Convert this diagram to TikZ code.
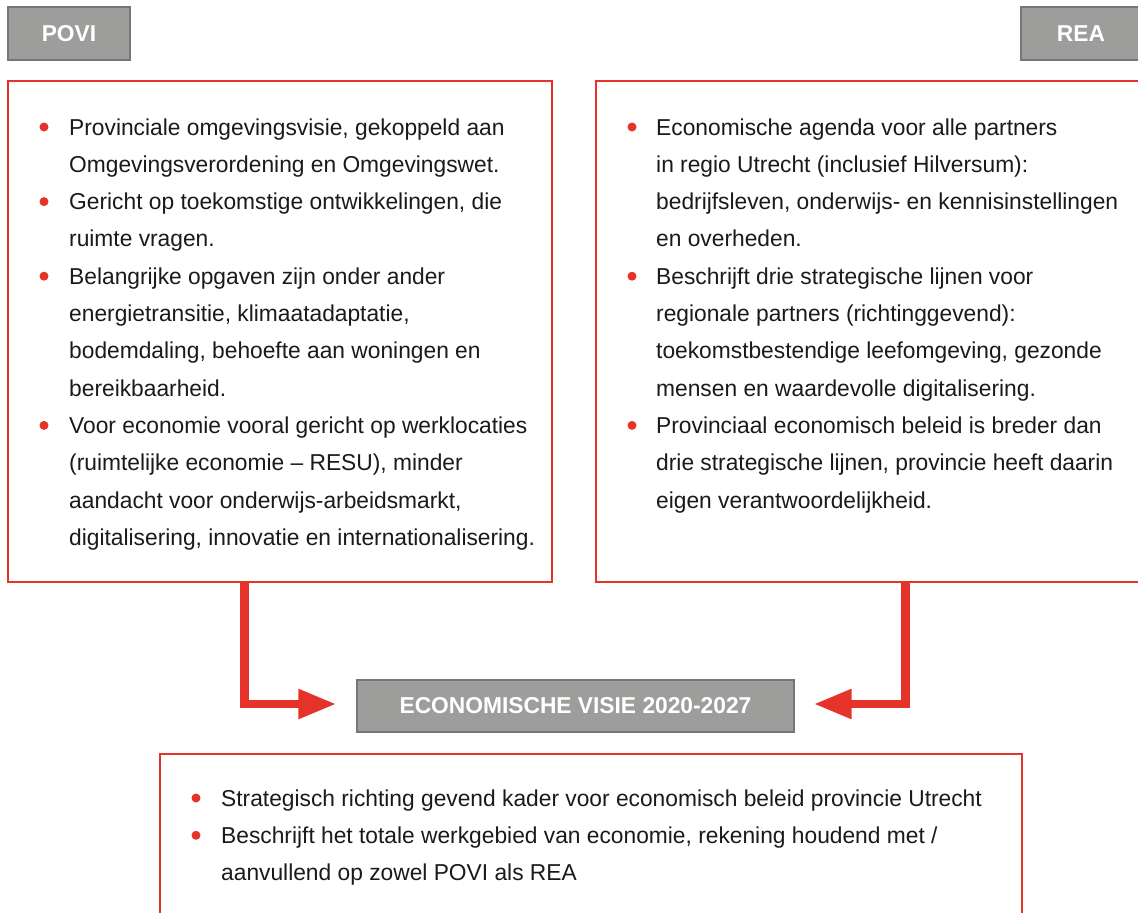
\documentclass[tikz,border=0pt]{standalone}
\usepackage{fontspec}
\setmainfont[FakeStretch=0.99]{Liberation Sans}
\usetikzlibrary{arrows.meta}
\definecolor{vred}{RGB}{230,51,41}
\definecolor{vgray}{RGB}{157,157,156}
\definecolor{vgrayline}{RGB}{118,118,118}
\definecolor{vtext}{RGB}{26,26,26}
\tikzset{
  redbox/.style={draw=vred, line width=1.3pt, inner sep=0pt},
  hdr/.style={fill=vgray, draw=vgrayline, line width=1.4pt, text=white, inner sep=0pt,
    font=\fontsize{23}{27}\selectfont\bfseries},
  txt/.style={anchor=base west, inner sep=0pt, text=vtext, font=\fontsize{23}{27}\selectfont},
  bul/.style={circle, fill=vred, inner sep=0pt, minimum size=9pt},
  conn/.style={draw=vred, line width=8.5pt, -{Triangle[length=38pt, width=28pt]}}
}
\begin{document}
\begin{tikzpicture}[x=1pt,y=-1pt]
\useasboundingbox (0,0) rectangle (1138,913);
% header boxes
\node[hdr, minimum width=122pt, minimum height=53pt] (povi) at (69,33.5) {POVI};
\node[hdr, minimum width=120pt, minimum height=53pt] (rea) at (1081,33.5) {REA};
% red boxes
\node[redbox, minimum width=544pt, minimum height=501pt] (lbox) at (280,331.5) {};
\node[redbox, minimum width=549pt, minimum height=501pt] (rbox) at (870.5,331.5) {};
\node[redbox, minimum width=862pt, minimum height=176pt] (bbox) at (591,842) {};
% center box
\node[hdr, minimum width=437pt, minimum height=52pt] (cbox) at (575.5,706) {ECONOMISCHE VISIE 2020-2027};
% left text
\node[bul] (lb1) at (44,127) {};
\node[bul] (lb2) at (44,201.6) {};
\node[bul] (lb3) at (44,276.2) {};
\node[bul] (lb4) at (44,425.4) {};
\node[txt] (l1) at (69,135) {Provinciale omgevingsvisie, gekoppeld aan};
\node[txt] (l2) at (69,172.3) {Omgevingsverordening en Omgevingswet.};
\node[txt] (l3) at (69,209.6) {Gericht op toekomstige ontwikkelingen, die};
\node[txt] (l4) at (69,246.9) {ruimte vragen.};
\node[txt] (l5) at (69,284.2) {Belangrijke opgaven zijn onder ander};
\node[txt] (l6) at (69,321.5) {energietransitie, klimaatadaptatie,};
\node[txt] (l7) at (69,358.8) {bodemdaling, behoefte aan woningen en};
\node[txt] (l8) at (69,396.1) {bereikbaarheid.};
\node[txt] (l9) at (69,433.4) {Voor economie vooral gericht op werklocaties};
\node[txt] (l10) at (69,470.7) {(ruimtelijke economie – RESU), minder};
\node[txt] (l11) at (69,508) {aandacht voor onderwijs-arbeidsmarkt,};
\node[txt] (l12) at (69,545.3) {digitalisering, innovatie en internationalisering.};
% right text
\node[bul] (rb1) at (632,127) {};
\node[bul] (rb2) at (632,276.2) {};
\node[bul] (rb3) at (632,425.4) {};
\node[txt] (r1) at (656,135) {Economische agenda voor alle partners};
\node[txt] (r2) at (656,172.3) {in regio Utrecht (inclusief Hilversum):};
\node[txt] (r3) at (656,209.6) {bedrijfsleven, onderwijs- en kennisinstellingen};
\node[txt] (r4) at (656,246.9) {en overheden.};
\node[txt] (r5) at (656,284.2) {Beschrijft drie strategische lijnen voor};
\node[txt] (r6) at (656,321.5) {regionale partners (richtinggevend):};
\node[txt] (r7) at (656,358.8) {toekomstbestendige leefomgeving, gezonde};
\node[txt] (r8) at (656,396.1) {mensen en waardevolle digitalisering.};
\node[txt] (r9) at (656,433.4) {Provinciaal economisch beleid is breder dan};
\node[txt] (r10) at (656,470.7) {drie strategische lijnen, provincie heeft daarin};
\node[txt] (r11) at (656,508) {eigen verantwoordelijkheid.};
% bottom text
\node[bul] (bb1) at (196,798) {};
\node[bul] (bb2) at (196,835.3) {};
\node[txt] (b1) at (221,806) {Strategisch richting gevend kader voor economisch beleid provincie Utrecht};
\node[txt] (b2) at (221,843.3) {Beschrijft het totale werkgebied van economie, rekening houdend met /};
\node[txt] (b3) at (221,880.6) {aanvullend op zowel POVI als REA};
% connectors
\draw[conn] ([xshift=237pt]lbox.south west) |- ([xshift=-20pt,yshift=2pt]cbox.west);
\draw[conn] ([xshift=310pt]rbox.south west) |- ([xshift=19pt,yshift=2pt]cbox.east);
\end{tikzpicture}
\end{document}
